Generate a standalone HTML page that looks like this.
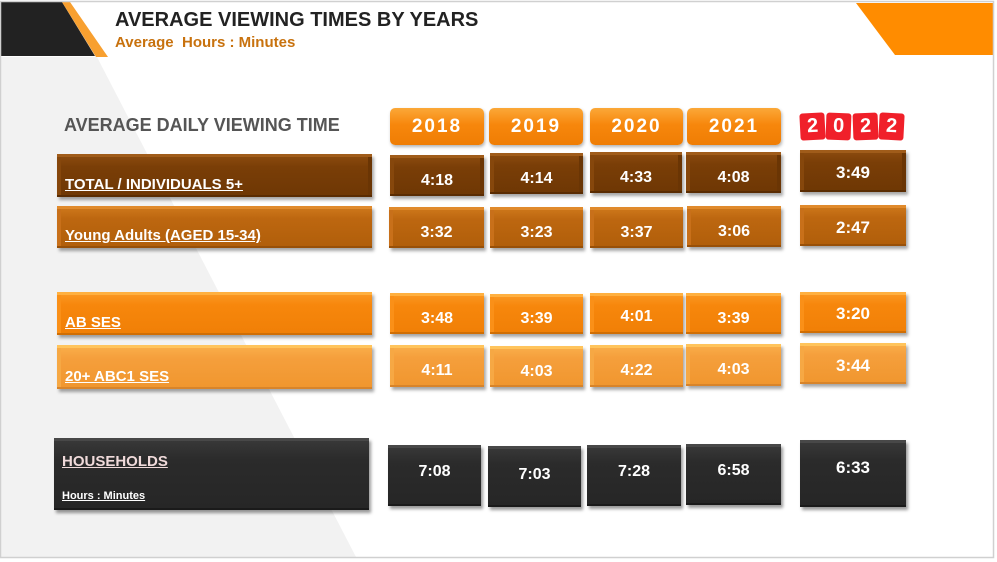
<!DOCTYPE html>
<html><head><meta charset="utf-8"><style>
body{margin:0;width:997px;height:562px;overflow:hidden;background:#fff;font-family:"Liberation Sans",sans-serif;}
#c{position:relative;width:997px;height:562px;}
.b{position:absolute;box-sizing:border-box;color:#fff;font-weight:bold;box-shadow:2px 3px 3px rgba(0,0,0,0.35);}
.v{display:flex;align-items:center;justify-content:center;font-size:16px;padding-top:10px;}
.l{font-size:15px;padding-left:8px;display:flex;align-items:flex-end;padding-bottom:4px;text-decoration:underline;}
.r1{background:linear-gradient(#8e4d10,#7a3e07 30%,#6e3704);box-shadow:inset 0 3px 0 #a05c1a,inset 0 -2px 0 #5a2c02,inset 4px 0 0 #86470c,inset -4px 0 0 #6a3504,2px 3px 3px rgba(0,0,0,0.35);}
.r2{background:linear-gradient(#d07a1c,#bd6710 30%,#b05e0a);box-shadow:inset 0 3px 0 #e08a2c,inset 0 -2px 0 #985008,inset 4px 0 0 #c8701a,2px 3px 3px rgba(0,0,0,0.35);}
.r3{background:linear-gradient(#fb9a26,#f7870c 30%,#f07f06);box-shadow:inset 0 3px 0 #ffb040,inset 0 -2px 0 #d06e04,inset 4px 0 0 #fa9018,2px 3px 3px rgba(0,0,0,0.35);}
.r4{background:linear-gradient(#fab04c,#f59f3c 30%,#f0962e);box-shadow:inset 0 3px 0 #ffc45c,inset 0 -2px 0 #d8842a,inset 4px 0 0 #f6a844,2px 3px 3px rgba(0,0,0,0.35);}
.r5{background:linear-gradient(#3a3a3a,#2b2b2b 30%,#262626);box-shadow:inset 0 3px 0 #484848,inset 0 -2px 0 #1a1a1a,2px 3px 3px rgba(0,0,0,0.4);}
.yr{position:absolute;top:108px;height:37px;border-radius:5px;background:linear-gradient(#fba838,#f7870c 45%,#ef7d04);color:#fff;font-weight:bold;font-size:19px;letter-spacing:2px;display:flex;align-items:center;justify-content:center;box-shadow:1px 2px 3px rgba(0,0,0,0.3);}
.d{flex:1;background:#f0202a;border-radius:3px;color:#fff;font-weight:bold;font-size:20px;text-align:center;line-height:27px;}
</style></head><body><div id="c">
<svg width="997" height="562" style="position:absolute;left:0;top:0">
<polygon points="0,57 97,57 356,557 0,557" fill="#f2f2f2"/>
<polygon points="1,2 62,2 95,56 1,56" fill="#222"/>
<polygon points="62,2 70,2 108,57 96,57" fill="#f8a030"/>
<polygon points="856,3 993,3 993,55 895,55" fill="#ff8c00"/>
<rect x="0.5" y="1.5" width="993" height="556" fill="none" stroke="#d0d0d0" stroke-width="1.5"/>
</svg>
<div style="position:absolute;left:115px;top:9px;font-size:20px;font-weight:bold;color:#222">AVERAGE VIEWING TIMES BY YEARS</div>
<div style="position:absolute;left:115px;top:34px;font-size:15px;font-weight:bold;color:#c8720e;white-space:pre">Average  Hours : Minutes</div>
<div style="position:absolute;left:64px;top:115px;font-size:18px;font-weight:bold;color:#555">AVERAGE DAILY VIEWING TIME</div>

<div class="yr" style="left:390px;width:94px">2018</div>
<div class="yr" style="left:489px;width:94px">2019</div>
<div class="yr" style="left:590px;width:93px">2020</div>
<div class="yr" style="left:687px;width:94px">2021</div>
<div style="position:absolute;left:800px;top:113px;width:104px;height:27px;display:flex;gap:1px">
<div class="d" style="transform:rotate(-3deg)">2</div>
<div class="d" style="transform:rotate(2deg)">0</div>
<div class="d" style="transform:rotate(-2deg)">2</div>
<div class="d" style="transform:rotate(3deg)">2</div>
</div>

<div class="b l r1" style="left:57px;top:154px;width:315px;height:43px">TOTAL / INDIVIDUALS 5+</div>
<div class="b l r2" style="left:57px;top:206px;width:315px;height:42px">Young Adults (AGED 15-34)</div>
<div class="b l r3" style="left:57px;top:292px;width:315px;height:43px">AB SES</div>
<div class="b l r4" style="left:57px;top:345px;width:315px;height:44px">20+ ABC1 SES</div>
<div class="b r5" style="left:54px;top:438px;width:315px;height:72px;padding-left:8px">
<div style="position:absolute;left:8px;top:15px;font-size:15px;text-decoration:underline;color:#f0dada">HOUSEHOLDS</div>
<div style="position:absolute;left:8px;top:52px;font-size:11px;text-decoration:underline">Hours : Minutes</div></div>

<div class="b v r1" style="left:390px;top:155px;width:94px;height:41px">4:18</div>
<div class="b v r1" style="left:490px;top:153px;width:93px;height:41px">4:14</div>
<div class="b v r1" style="left:590px;top:152px;width:92px;height:41px">4:33</div>
<div class="b v r1" style="left:686px;top:152px;width:95px;height:41px">4:08</div>
<div class="b v r1" style="left:800px;top:150px;width:106px;height:42px;font-size:17px;padding-top:4px">3:49</div>

<div class="b v r2" style="left:389px;top:207px;width:95px;height:41px">3:32</div>
<div class="b v r2" style="left:490px;top:207px;width:93px;height:41px">3:23</div>
<div class="b v r2" style="left:590px;top:207px;width:93px;height:41px">3:37</div>
<div class="b v r2" style="left:687px;top:206px;width:94px;height:41px">3:06</div>
<div class="b v r2" style="left:800px;top:205px;width:106px;height:41px;font-size:17px;padding-top:4px">2:47</div>

<div class="b v r3" style="left:390px;top:293px;width:94px;height:41px">3:48</div>
<div class="b v r3" style="left:490px;top:294px;width:93px;height:40px">3:39</div>
<div class="b v r3" style="left:590px;top:293px;width:93px;height:41px;padding-top:6px">4:01</div>
<div class="b v r3" style="left:686px;top:293px;width:95px;height:41px">3:39</div>
<div class="b v r3" style="left:800px;top:292px;width:106px;height:41px;font-size:17px;padding-top:2px">3:20</div>

<div class="b v r4" style="left:390px;top:345px;width:94px;height:42px">4:11</div>
<div class="b v r4" style="left:490px;top:346px;width:93px;height:41px">4:03</div>
<div class="b v r4" style="left:590px;top:345px;width:93px;height:42px">4:22</div>
<div class="b v r4" style="left:686px;top:344px;width:95px;height:42px">4:03</div>
<div class="b v r4" style="left:800px;top:343px;width:106px;height:41px;font-size:17px;padding-top:4px">3:44</div>

<div class="b v r5" style="left:388px;top:445px;width:93px;height:61px;padding-top:0;padding-bottom:8px">7:08</div>
<div class="b v r5" style="left:488px;top:446px;width:93px;height:61px;padding-top:0;padding-bottom:4px">7:03</div>
<div class="b v r5" style="left:587px;top:445px;width:94px;height:61px;padding-top:0;padding-bottom:8px">7:28</div>
<div class="b v r5" style="left:686px;top:444px;width:95px;height:61px;padding-top:0;padding-bottom:8px">6:58</div>
<div class="b v r5" style="left:800px;top:440px;width:106px;height:67px;font-size:17px;padding-top:0;padding-bottom:12px">6:33</div>
</div></body></html>
